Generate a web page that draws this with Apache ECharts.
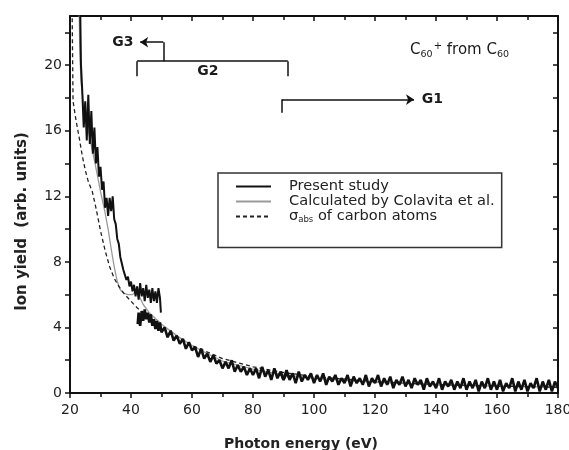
<!DOCTYPE html>
<html>
<head>
<meta charset="utf-8">
<script src="https://cdn.jsdelivr.net/npm/echarts@6/dist/echarts.min.js"></script>
<style>html,body{margin:0;padding:0;background:#fff}#c{width:569px;height:450px}</style>
</head>
<body>
<div id="c"></div>
<script>
// ---- data ----
var xTicks = [20, 40, 60, 80, 100, 120, 140, 160, 180];
var yTickLabels = [0, 4, 8, 12, 16, 20];
var yTickMarks = [0, 2, 4, 6, 8, 10, 12, 14, 16, 18, 20, 22];

// Present study, G3 range
var presentG3 = [[23.3,24],[23.6,20],[24,18.5],[24.5,16.2],[25,17.8],[25.5,15.4],[26,18.2],[26.5,15.2],[27,17.2],[27.5,14.6],[28,16.2],[28.5,14.0],[29,15.0],[29.5,13.2],[30,13.8],[30.5,12.4],[31,12.9],[31.5,11.3],[32,11.9],[32.5,10.8],[33,11.9],[33.5,11.1],[34,12.0],[34.5,10.6],[35,10.3],[35.5,9.4],[36,9.1],[36.5,8.3],[37,8.2],[37.5,7.5],[38,7.5],[38.5,6.9],[39,7.1],[39.5,6.5],[40,6.8],[40.5,6.2],[41,6.6],[41.5,5.9],[42,6.5],[42.5,5.7],[43,6.7],[43.5,5.9],[44,6.4],[44.5,5.6],[45,6.6],[45.5,5.8],[46,6.3],[46.5,5.5],[47,6.4],[47.5,5.6],[48,6.2],[48.5,5.5],[49,6.4],[49.5,5.8],[49.8,4.9]];
// Present study, G2 range
var presentG2 = [[42.2,4.2],[42.5,4.9],[43,4.1],[43.5,5.0],[44,4.4],[44.5,5.1],[45,4.5],[45.5,4.9],[46,4.3],[46.5,4.8],[47,4.1],[47.5,4.5],[48,3.9],[48.5,4.4],[49,3.8],[49.5,4.3],[50,3.7],[51,4.0],[52,3.4],[53,3.8],[54,3.2],[55,3.5],[56,3.0],[57,3.3],[58,2.7],[59,3.1],[60,2.6],[61,2.8],[62,2.2],[63,2.7],[64,2.1],[65,2.4],[66,1.9],[67,2.3],[68,1.8],[69,2.0],[70,1.5],[71,1.9],[72,1.5],[73,2.0],[74,1.3],[75,1.7],[76,1.3],[77,1.6],[78,1.1],[79,1.5],[80,1.1],[81,1.5],[82,0.9],[83,1.6],[84,1.0],[85,1.4],[86,0.8],[87,1.5],[88,0.9],[89,1.3],[90,0.8],[91,1.2],[92,0.9]];
// Present study, G1 range
var presentG1 = [[89,1.3],[90,0.8],[91,1.4],[92,0.8],[93,1.2],[94,0.6],[95,1.3],[96,0.7],[97,1.1],[98,0.8],[99,1.2],[100,0.6],[101,1.1],[102,0.7],[103,1.2],[104,0.5],[105,1.0],[106,0.7],[107,1.1],[108,0.5],[109,0.9],[110,0.6],[111,1.1],[112,0.4],[113,1.0],[114,0.6],[115,0.9],[116,0.5],[117,1.1],[118,0.4],[119,0.9],[120,0.6],[121,1.1],[122,0.4],[123,0.9],[124,0.5],[125,1.0],[126,0.3],[127,0.8],[128,0.5],[129,1.0],[130,0.4],[131,0.8],[132,0.3],[133,0.9],[134,0.5],[135,0.8],[136,0.2],[137,0.9],[138,0.4],[139,0.7],[140,0.3],[141,0.9],[142,0.2],[143,0.7],[144,0.4],[145,0.8],[146,0.2],[147,0.7],[148,0.3],[149,0.9],[150,0.2],[151,0.7],[152,0.3],[153,0.8],[154,0.1],[155,0.7],[156,0.3],[157,0.9],[158,0.2],[159,0.7],[160,0.2],[161,0.8],[162,0.1],[163,0.6],[164,0.3],[165,0.9],[166,0.1],[167,0.7],[168,0.2],[169,0.8],[170,0.1],[171,0.6],[172,0.3],[173,0.9],[174,0.1],[175,0.7],[176,0.2],[177,0.8],[178,0.1],[179,0.7],[180,0.3]];
// Calculated by Colavita et al.
var colavita = [[22.8,26],[23.2,21],[23.6,19],[24.5,17.5],[26,16],[28,14.2],[30,12.3],[31.5,11],[32.5,10],[33.5,8.8],[34.5,7.7],[35.5,6.8],[36.5,6.3],[37.5,6.1],[39,6.0],[40.5,6.0],[41.5,6.2],[42.5,6.0],[44,5.4],[46,4.9],[50,4.2],[55,3.5],[60,2.9],[65,2.4],[70,1.95],[80,1.45],[90,1.1],[100,0.9],[120,0.65],[140,0.5],[160,0.42],[180,0.36]];
// sigma_abs of carbon atoms
var sigmaAbs = [[20.6,25],[21,17.8],[22,16.6],[23,15.6],[24,14.5],[25,13.6],[26,12.9],[27.3,12.3],[28.5,11.3],[30,9.9],[31.5,8.7],[33,7.7],[34.5,7.0],[36,6.5],[38,6.0],[40,5.6],[42,5.2],[45,4.7],[50,4.0],[55,3.4],[60,2.9],[70,2.1],[80,1.6],[90,1.25],[100,1.0],[120,0.7],[140,0.52],[160,0.42],[180,0.35]];

// range brackets (data coordinates); last segment of G3 and G1 ends in an arrow
var g3Bracket = [[50.6,20.24],[50.6,21.4],[43,21.4]];
var g2Bracket = [[42,19.33],[42,20.24],[91.4,20.24],[91.4,19.33]];
var g1Bracket = [[89.4,17.1],[89.4,17.9],[132.8,17.9]];
var bracketLabels = [
  {name:'G3', value:[40.8,21.4], align:'right'},
  {name:'G2', value:[65.2,19.6], align:'center'},
  {name:'G1', value:[135.3,17.9], align:'left'}
];
var titleAnchor = [131.5, 20.9];

var FONT = 'DejaVu Sans';
var chart = echarts.init(document.getElementById('c'), null, {renderer:'canvas'});

function lineSeries(name, data, color, width, type, z) {
  return {name:name, type:'line', data:data, showSymbol:false, symbol:'none',
    lineStyle:{color:color, width:width, type:type||'solid'}, itemStyle:{color:color},
    xAxisIndex:0, yAxisIndex:0, z:z, animation:false, clip:true};
}
function segs(pts, from, to) {
  var out = [];
  for (var i = from; i < to; i++) out.push({coords:[pts[i], pts[i+1]]});
  return out;
}
var plainSegs = [].concat(segs(g3Bracket,0,1), segs(g2Bracket,0,3), segs(g1Bracket,0,1));
var arrowSegs = [].concat(segs(g3Bracket,1,2), segs(g1Bracket,1,2));
function segSeries(data, arrow) {
  return {type:'lines', coordinateSystem:'cartesian2d', xAxisIndex:0, yAxisIndex:0,
    symbol: arrow ? ['none','arrow'] : ['none','none'], symbolSize: 8,
    lineStyle:{color:'#111', width:1.5, opacity:1, curveness:0},
    data:data, z:6, animation:false, silent:true};
}

var axisLineStyle = {color:'#111', width:2};

chart.setOption({
  animation:false,
  backgroundColor:'#fff',
  textStyle:{fontFamily:FONT},
  grid:{left:70, right:11, top:16, bottom:57, containLabel:false, outerBoundsMode:'none'},
  legend:{
    data:['Present study','Calculated by Colavita et al.','sigma'],
    orient:'vertical', left:218, top:173,
    padding:[6,7,23,17], itemGap:0, itemWidth:35, itemHeight:15,
    borderColor:'#333', borderWidth:1.5, backgroundColor:'#fff',
    itemStyle:{color:'transparent', borderColor:'transparent', borderWidth:0, opacity:0},
    formatter:function(n){ return n==='sigma' ? '{s|σ}{sub|abs}{t| of carbon atoms}' : n; },
    textStyle:{fontFamily:FONT, fontSize:14.6, color:'#222', padding:[0,0,0,13], lineHeight:15,
      rich:{s:{fontSize:14.6, fontFamily:FONT, color:'#222'}, sub:{fontSize:8.5, fontFamily:FONT, color:'#222', padding:[7,0,0,0]}, t:{fontSize:14.6, fontFamily:FONT, color:'#222'}}},
    selectedMode:false
  },
  xAxis:[
    {type:'value', min:20, max:180, interval:20, position:'bottom',
      axisLine:{show:true, onZero:false, lineStyle:axisLineStyle},
      axisTick:{show:true, inside:false, length:5, lineStyle:{color:'#111', width:1.5}},
      minorTick:{show:true, splitNumber:2, length:4, lineStyle:{color:'#111', width:1.5}},
      axisLabel:{fontFamily:FONT, fontSize:14, color:'#222', margin:10},
      splitLine:{show:false},
      name:'Photon energy (eV)', nameLocation:'middle', nameGap:44,
      nameTextStyle:{fontFamily:FONT, fontSize:14, fontWeight:'bold', color:'#222', padding:[0,26,0,0]}},
    {type:'value', min:20, max:180, interval:20, position:'top',
      axisLine:{show:true, onZero:false, lineStyle:axisLineStyle},
      axisTick:{show:true, inside:true, length:5, lineStyle:{color:'#111', width:1.5}},
      minorTick:{show:true, splitNumber:2, length:4, lineStyle:{color:'#111', width:1.5}},
      axisLabel:{show:false}, splitLine:{show:false}}
  ],
  yAxis:[
    {type:'value', min:0, max:23, position:'left',
      axisLine:{show:true, onZero:false, lineStyle:axisLineStyle},
      axisTick:{show:true, inside:false, length:5, customValues:yTickMarks, lineStyle:{color:'#111', width:1.5}},
      axisLabel:{fontFamily:FONT, fontSize:14, color:'#222', margin:8, customValues:yTickLabels},
      splitLine:{show:false},
      name:'Ion yield  (arb. units)', nameLocation:'middle', nameGap:40, nameRotate:90,
      nameTextStyle:{fontFamily:FONT, fontSize:15, fontWeight:'bold', color:'#222', padding:[0,34,0,0]}},
    {type:'value', min:0, max:23, position:'right',
      axisLine:{show:true, onZero:false, lineStyle:axisLineStyle},
      axisTick:{show:true, inside:true, length:5, customValues:yTickMarks, lineStyle:{color:'#111', width:1.5}},
      axisLabel:{show:false}, splitLine:{show:false}}
  ],
  series:[
    lineSeries('Calculated by Colavita et al.', colavita, '#9a9a9a', 1.3, 'solid', 2),
    lineSeries('sigma', sigmaAbs, '#222', 1.3, [4,3], 3),
    lineSeries('Present study', presentG3, '#111', 2, 'solid', 4),
    lineSeries('Present study', presentG2, '#111', 2.6, 'solid', 4),
    lineSeries('Present study', presentG1, '#111', 2.6, 'solid', 4),
    segSeries(plainSegs, false),
    segSeries(arrowSegs, true),
    {type:'scatter', xAxisIndex:0, yAxisIndex:0, symbolSize:0, silent:true, z:7, itemStyle:{opacity:1},
      data:bracketLabels.map(function(d){return {name:d.name, value:d.value,
        label:{show:true, position:'inside', formatter:d.name, align:d.align, verticalAlign:'middle',
          fontFamily:FONT, fontSize:14, fontWeight:'bold', color:'#1a1a1a', opacity:1}};})},
    {type:'scatter', xAxisIndex:0, yAxisIndex:0, symbolSize:0, silent:true, z:7, itemStyle:{opacity:1},
      data:[{value:titleAnchor, label:{show:true, position:'inside', align:'left', verticalAlign:'middle', opacity:1,
        formatter:'{c|C}{sub|60}{sup|+}{c| from C}{sub|60}',
        rich:{c:{fontFamily:FONT, fontSize:15, color:'#1a1a1a', lineHeight:20},
              sub:{fontFamily:FONT, fontSize:9.5, color:'#1a1a1a', padding:[8,0,0,0]},
              sup:{fontFamily:FONT, fontSize:10, color:'#1a1a1a', padding:[0,0,9,1]}}}}]}
  ]
});
</script>
</body>
</html>
